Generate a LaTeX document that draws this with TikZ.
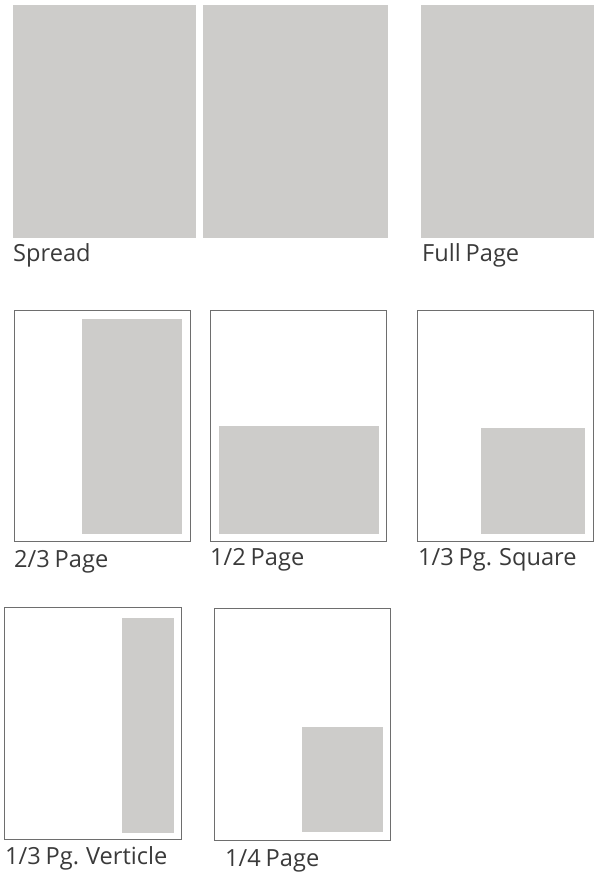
\documentclass[tikz,border=0pt]{standalone}
\usepackage{fontspec}
\setmainfont{Open Sans}[WordSpace=0.8]
\definecolor{adgray}{HTML}{CDCCCA}
\definecolor{frame}{HTML}{6E6E6E}
\definecolor{labeltxt}{HTML}{3A3A3A}
\begin{document}
\begin{tikzpicture}[x=1pt,y=-1pt,
  ad/.style={fill=adgray},
  pagebox/.style={draw=frame,line width=1pt},
  lbl/.style={anchor=base west,inner sep=0pt,text=labeltxt,font=\fontsize{23.6}{28}\selectfont}]
\useasboundingbox (0,0) rectangle (594,873);
% Row 1
\fill[ad] (13,5) rectangle (196,238);
\fill[ad] (203,5) rectangle (388,238);
\fill[ad] (421,5) rectangle (594,238);
\node[lbl] (spread) at (13,261) {Spread};
\node[lbl] (full) at (422,261) {Full Page};
% Row 2
\draw[pagebox] (14,310) rectangle (190.5,541.5);
\fill[ad] (82,319) rectangle (182,533.5);
\node[lbl] (twothirds) at (14,567) {2/3 Page};
\draw[pagebox] (210,310) rectangle (386,541.5);
\fill[ad] (219,426) rectangle (379,533.5);
\node[lbl] (half) at (210,565) {1/2 Page};
\draw[pagebox] (417.5,310) rectangle (593,541);
\fill[ad] (481,428) rectangle (584.5,533.5);
\node[lbl] (square) at (418,565) {1/3 Pg. Square};
% Row 3
\draw[pagebox] (4.5,607.5) rectangle (181,839.5);
\fill[ad] (122,618) rectangle (173.5,832.5);
\node[lbl] (vert) at (5,864) {1/3 Pg. Verticle};
\draw[pagebox] (214,608.5) rectangle (390,840.5);
\fill[ad] (302,727) rectangle (382.5,831.5);
\node[lbl] (quarter) at (225,866) {1/4 Page};
\end{tikzpicture}
\end{document}
